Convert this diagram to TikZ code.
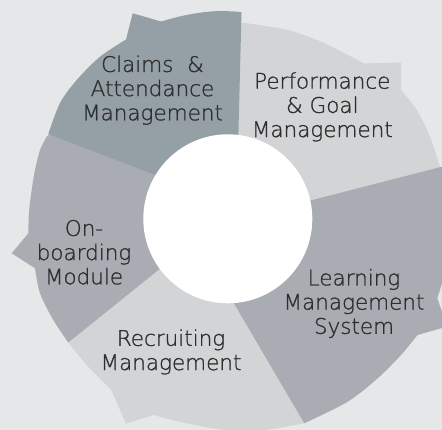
\documentclass[tikz,border=0pt]{standalone}
\usepackage{fontspec}
\IfFontExistsTF{DejaVu Sans ExtraLight}{\setmainfont{DejaVu Sans ExtraLight}[FakeBold=1]}{\setmainfont{DejaVu Sans}}
\definecolor{bgc}{HTML}{E6E7E9}
\definecolor{perfc}{HTML}{D3D4D6}
\definecolor{lmsc}{HTML}{A9ACB3}
\definecolor{recc}{HTML}{D3D4D6}
\definecolor{onbc}{HTML}{A9ACB3}
\definecolor{claimc}{HTML}{95A0A6}
\definecolor{txtc}{HTML}{2E2E2E}
\tikzset{
  lbl/.style={align=center, text=txtc, inner sep=0pt, font=\fontsize{21.5}{24.2}\selectfont},
  arcpts/.style={smooth, tension=0.5}
}
\begin{document}
\begin{tikzpicture}[x=1pt,y=-1pt]
\path[use as bounding box] (0,0) rectangle (442,430);
\clip (0,0) rectangle (442,430);
\fill[bgc] (0,0) rectangle (442,430);
% Performance
\fill[perfc] (300,215) -- (228,200) -- (230,22.5)
  -- plot[arcpts] coordinates {(243,22.7) (287.7,30) (321,41.7) (364.3,63.5)}
  -- (401,62.5)
  -- plot[arcpts] coordinates {(401,90) (416.7,110) (430,136.7) (442,173) (450,195)}
  -- (450,200) -- cycle;
% Recruiting
\fill[recc] (180,252) -- (75,330) -- (68.3,342.5)
  -- plot[arcpts] coordinates {(68.3,342.5) (86.7,365) (111,389.5)}
  -- (126,423.5)
  -- plot[arcpts] coordinates {(153.3,415) (186.7,423.3) (221,429.5) (260,430.5) (304.3,423.3)}
  -- (300,400) -- (245,285) -- cycle;
% Onboarding
\fill[onbc] (200,195) -- (55,128) -- (46.5,137)
  -- plot[arcpts] coordinates {(46.5,137) (40,150) (35,170) (31.7,190) (29,212) (28.3,233.3)}
  -- (11.7,253.3)
  -- plot[arcpts] coordinates {(35,268.3) (40,293.3) (53.3,320) (68.3,342.5)}
  -- (190,244.5) -- cycle;
% Learning Management System
\fill[lmsc] (270,210.9) -- (442,166.7) -- (450,164.7) -- (450,281) -- (442,283.3)
  -- (437.3,298.3) -- (442,311.7) -- (450,314) -- (450,328) -- (442,328)
  -- plot[arcpts] coordinates {(417.5,335) (401,355) (377.7,378.3) (347.7,401.7) (304.3,423.3)}
  -- (222,283) -- cycle;
% Claims
\fill[claimc] (190,188.4) -- (48.3,134)
  -- plot[arcpts] coordinates {(48.3,134) (60,103) (76.7,80) (100,56.7) (126,39.5)}
  -- (132.7,13.3)
  -- plot[arcpts] coordinates {(161,21.5) (180,16.4) (200,12.7) (220,11) (241.5,12)}
  -- (237,190) -- cycle;
% centre
\fill[white] (227.8,218.8) circle[radius=84.5];
% labels
\node[lbl] (claims) at (152.5,90.2) {Claims\ \ \&\\Attendance\\Management};
\node[lbl] (perf) at (322.3,106.9) {Performance\\\& Goal\\Management};
\node[lbl] (lms) at (354,303.5) {Learning\\Management\\System};
\node[lbl] (rec) at (171,352) {Recruiting\\Management};
\node[lbl] (onb) at (84,252.3) {On-\\boarding\\Module};
\end{tikzpicture}
\end{document}
